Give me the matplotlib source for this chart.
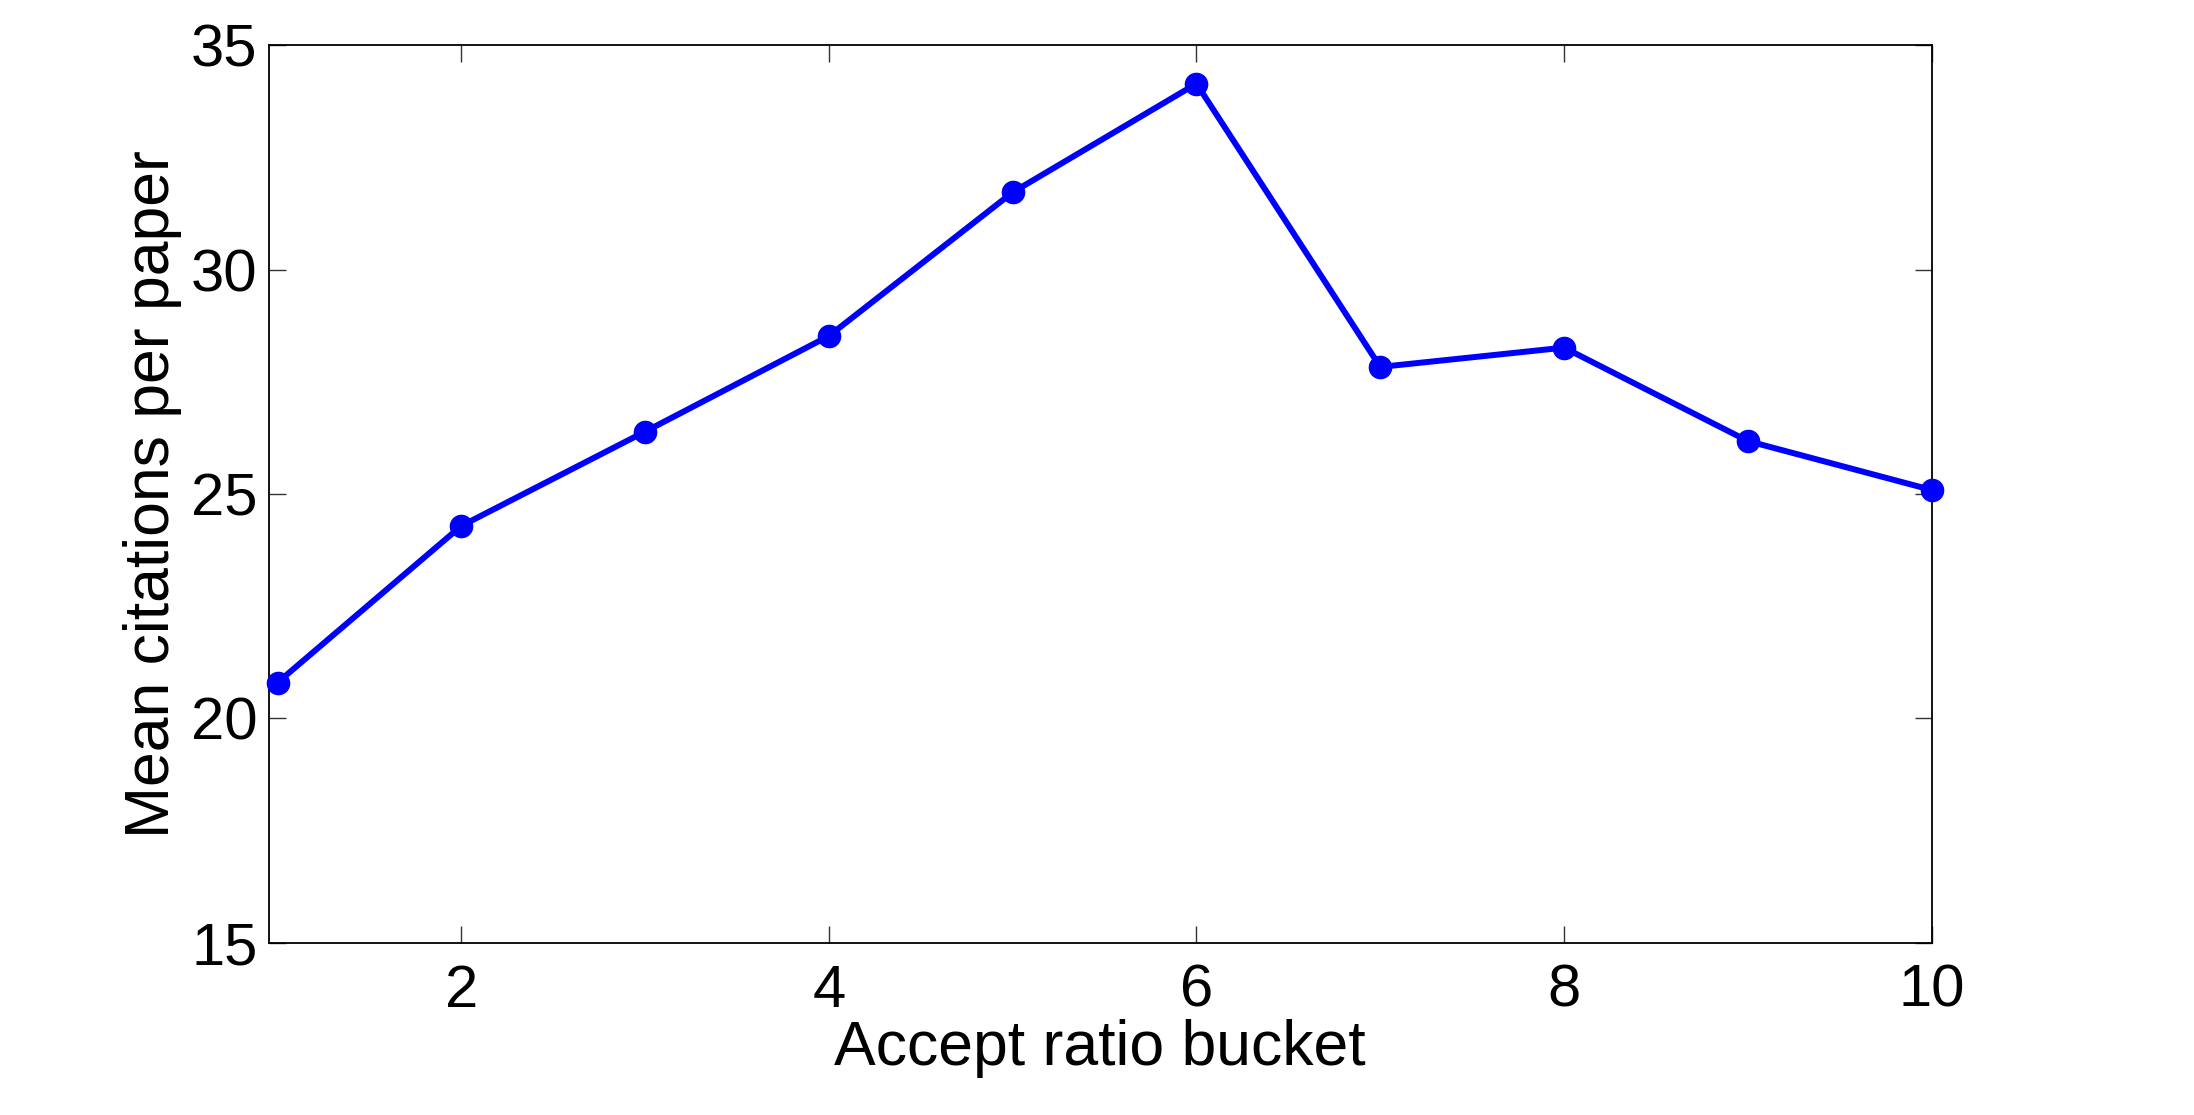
import matplotlib
matplotlib.use("Agg")
import matplotlib.pyplot as plt

buckets = [1, 2, 3, 4, 5, 6, 7, 8, 9, 10]
mean_citations = [20.8, 24.29, 26.39, 28.52, 31.72, 34.14, 27.83, 28.26, 26.18, 25.09]
xticks = [2, 4, 6, 8, 10]
yticks = [15, 20, 25, 30, 35]

plt.rcParams['font.family'] = ['Liberation Sans', 'DejaVu Sans']

fig = plt.figure(figsize=(21.94, 11.15), dpi=100)
ax = fig.add_axes([0.1224, 0.1543, 0.8804 - 0.1224, 0.9596 - 0.1543])

ax.plot(buckets, mean_citations, color='#0000ff', linewidth=4.3, marker='o',
        markersize=16, markeredgecolor='#0000ff', markerfacecolor='#0000ff',
        clip_on=False, zorder=3)

ax.set_xlim(0.951, 10)
ax.set_ylim(15, 35)
ax.set_xticks(xticks)
ax.set_yticks(yticks)
ax.tick_params(direction='in', length=12, width=1.0, color='#333333',
               top=True, right=True, labelsize=43, pad=15)
ax.tick_params(axis='y', pad=8)
for s in ax.spines.values():
    s.set_linewidth(1.3)
    s.set_color('black')

ax.set_xlabel('Accept ratio bucket', fontsize=45, labelpad=0)
ax.set_ylabel('Mean citations per paper', fontsize=45, labelpad=6)

fig.savefig('out.png', dpi=100, facecolor='white')
